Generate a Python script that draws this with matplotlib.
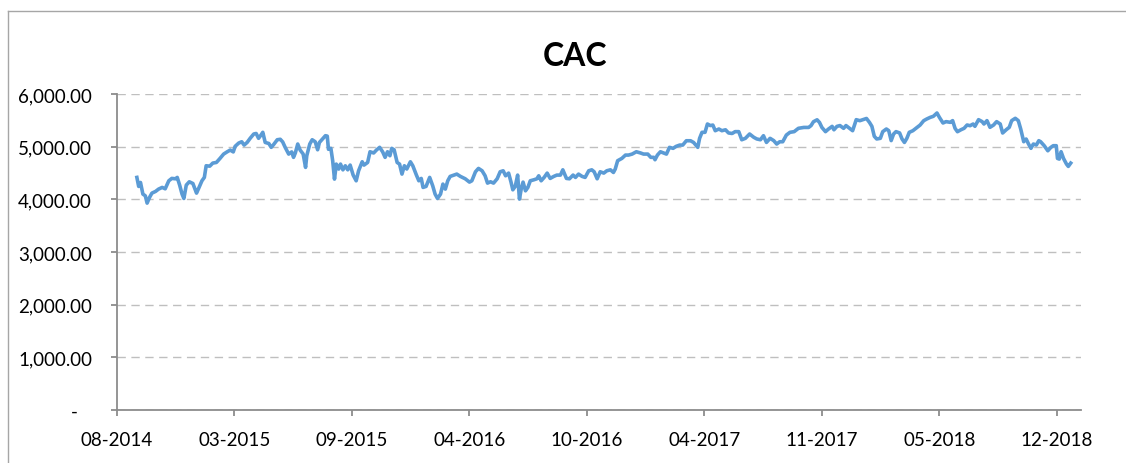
import matplotlib
matplotlib.use("Agg")
import matplotlib.pyplot as plt
import matplotlib.dates as mdates
from matplotlib.ticker import FuncFormatter, MultipleLocator
from matplotlib.lines import Line2D
import pandas as pd

# axis origin and tick step of the date axis
axis_start = "2014-08-25"
tick_step_days = 195
n_ticks = 9
axis_span_days = 1600

# CAC index: days after axis_start and index level
day_offset = [
    33, 36, 39, 43, 47, 50, 54, 58, 64, 69, 75, 80, 86, 91, 97, 100, 104, 108, 111, 115,
    120, 126, 132, 135, 141, 145, 148, 154, 159, 165, 171, 177, 183, 188, 193, 196, 202, 207, 211, 216,
    221, 227, 231, 235, 239, 242, 246, 252, 256, 260, 266, 271, 275, 279, 285,
    290, 293, 296, 300, 304, 309, 313, 315, 320, 324, 329, 333, 336, 340, 346, 349, 351, 355, 358, 361,
    364, 368, 371, 375, 379, 383, 387, 392, 397, 401, 407, 410, 416, 420, 426, 431, 436, 441, 445, 449,
    453, 456, 460, 465, 469, 473, 477, 481, 487, 491, 497, 501, 505, 508, 513, 519, 524, 528, 532, 537,
    541, 545, 549, 553,
    559, 564, 570, 578, 585, 589, 595, 600, 606, 611, 615, 620, 625, 631, 636, 641, 645, 650, 654, 657,
    661, 665, 668, 671, 674, 678, 682, 686, 692, 697, 700, 704, 709, 714, 719, 725, 730, 736, 740, 746,
    751, 757, 761, 766, 772, 777, 783, 788, 792, 797, 802, 808, 813, 819,
    824, 827, 831, 838, 844, 849, 855, 862, 869, 874, 881, 886, 891, 893, 897, 902, 907, 912, 917, 923,
    928, 934, 939, 945, 952, 957, 964, 967, 971, 976, 980, 985, 989, 993, 999, 1004, 1010, 1015, 1021, 1026,
    1032, 1037, 1043, 1050, 1057, 1062, 1068, 1073, 1078, 1084,
    1090, 1095, 1100, 1105, 1111, 1117, 1124, 1131, 1140, 1148, 1152, 1156, 1162, 1166, 1170, 1176, 1181, 1187, 1190, 1195,
    1200, 1206, 1210, 1216, 1221, 1227, 1233, 1238, 1244, 1249, 1253, 1257, 1261, 1267, 1271, 1277, 1281, 1285, 1289, 1293,
    1299, 1303, 1307, 1311, 1315, 1321, 1328, 1333, 1339, 1344,
    1350, 1355, 1361, 1365, 1371, 1376, 1383, 1387, 1391, 1395, 1401, 1406, 1411, 1416, 1421, 1424, 1430, 1436, 1439, 1444,
    1449, 1455, 1460, 1466, 1470, 1476, 1481, 1485, 1491, 1496, 1500, 1505, 1509, 1513, 1517, 1521, 1526, 1530, 1533, 1539,
    1545, 1550, 1554, 1559, 1561, 1564, 1567, 1571, 1576, 1579, 1583,
]
cac = [
    4416, 4245, 4320, 4099, 4067, 3928, 4036, 4118, 4150, 4194, 4226, 4200, 4352, 4397, 4390, 4416, 4270, 4099, 4016, 4270,
    4333, 4300, 4118, 4194, 4352, 4416, 4637, 4630, 4688, 4700, 4777, 4859, 4903, 4935, 4900, 5005, 5068, 5093, 5030, 5080,
    5158, 5240, 5250, 5158, 5220, 5272, 5080, 5060, 4987, 5040, 5131, 5140, 5090, 4990, 4859,
    4900, 4797, 4880, 5050, 4935, 4860, 4606, 4828, 5050, 5131, 5093, 4941, 5080, 5131, 5208, 5200, 4950, 4968, 4733, 4384,
    4669, 4575, 4669, 4560, 4637, 4560, 4650, 4460, 4352, 4542, 4713, 4650, 4700, 4903, 4880, 4940, 4987, 4900, 4797, 4903,
    4828, 4968, 4940, 4700, 4669, 4479, 4637, 4575, 4713, 4637, 4460, 4352, 4397, 4226, 4245, 4416, 4258, 4099, 4016, 4099,
    4289, 4194, 4352, 4435,
    4460, 4479, 4435, 4390, 4327, 4352, 4523, 4587, 4542, 4447, 4308, 4333, 4308, 4390, 4523, 4542, 4447, 4498, 4327, 4181,
    4245, 4460, 4004, 4200, 4327, 4162, 4226, 4352, 4371, 4390, 4447, 4352, 4416, 4498, 4397, 4435, 4460, 4460, 4560, 4397,
    4390, 4460, 4416, 4479, 4435, 4416, 4542, 4560, 4523, 4390, 4523, 4498, 4542, 4560,
    4510, 4575, 4733, 4777, 4840, 4840, 4859, 4903, 4880, 4859, 4859, 4797, 4797, 4752, 4840, 4903, 4880, 4859, 4987, 4968,
    5005, 5030, 5030, 5112, 5112, 5080, 4987, 5158, 5272, 5272, 5430, 5400, 5410, 5303, 5335, 5303, 5320, 5260, 5250, 5285,
    5285, 5131, 5158, 5240, 5177, 5146, 5131, 5208, 5080, 5158,
    5115, 5050, 5093, 5093, 5220, 5272, 5285, 5348, 5365, 5365, 5400, 5473, 5510, 5460, 5365, 5285, 5335, 5385, 5320, 5385,
    5400, 5348, 5400, 5348, 5303, 5512, 5493, 5512, 5535, 5460, 5385, 5196, 5146, 5158, 5285, 5335, 5303, 5115, 5240, 5285,
    5260, 5146, 5080, 5158, 5272, 5303, 5365, 5410, 5493, 5525,
    5557, 5576, 5639, 5557, 5449, 5475, 5462, 5494, 5348, 5284, 5322, 5348, 5411, 5398, 5430, 5386, 5512, 5475, 5430, 5494,
    5367, 5411, 5475, 5430, 5259, 5322, 5367, 5494, 5538, 5494, 5335, 5094, 5145, 5050, 4968, 5050, 5031, 5113, 5094, 5018,
    4922, 4986, 5018, 5018, 4777, 4764, 4904, 4777, 4669, 4625, 4688,
]

plt.rcParams['font.family'] = ['Lato', 'DejaVu Sans']

start = pd.Timestamp(axis_start)
dates = start + pd.to_timedelta(day_offset, unit="D")
ticks = [start + pd.Timedelta(days=tick_step_days * k) for k in range(n_ticks)]

fig = plt.figure(figsize=(11.26, 4.64), dpi=100)
ax = fig.add_axes([0.1039, 0.1142, 0.8561, 0.6811])

ax.plot(dates, cac, color='#5B9BD5', linewidth=2.6, solid_joinstyle='round')

ax.set_xlim(start, start + pd.Timedelta(days=axis_span_days))
ax.set_ylim(0, 6000)
ax.yaxis.set_major_locator(MultipleLocator(1000))
ax.yaxis.set_major_formatter(FuncFormatter(lambda v, p: '-   ' if v == 0 else f'{v:,.2f}'))
ax.set_xticks(ticks)
ax.xaxis.set_major_formatter(mdates.DateFormatter('%m-%Y'))

ax.grid(axis='y', color='#BFBFBF', linestyle=(0, (6, 4)), linewidth=1.0)
ax.set_axisbelow(True)
for s in ['top', 'right']:
    ax.spines[s].set_visible(False)
for s in ['left', 'bottom']:
    ax.spines[s].set_color('#8C8C8C')
    ax.spines[s].set_linewidth(1.3)
ax.tick_params(axis='both', direction='out', length=4, width=1.3, color='#8C8C8C',
               labelsize=13.5, labelcolor='#000000')
ax.tick_params(axis='y', pad=14)
ax.tick_params(axis='x', pad=11)

fig.text(0.511, 0.878, 'CAC', ha='center', va='center', fontsize=23, fontweight='bold', color='#000000')

# chart area border (left and top visible)
fig.add_artist(Line2D([8 / 1126, 8 / 1126], [0, 1 - 12 / 464], transform=fig.transFigure, color='#A6A6A6', linewidth=1))
fig.add_artist(Line2D([8 / 1126, 1], [1 - 12 / 464, 1 - 12 / 464], transform=fig.transFigure, color='#A6A6A6', linewidth=1))

fig.savefig('out.png', dpi=100)
